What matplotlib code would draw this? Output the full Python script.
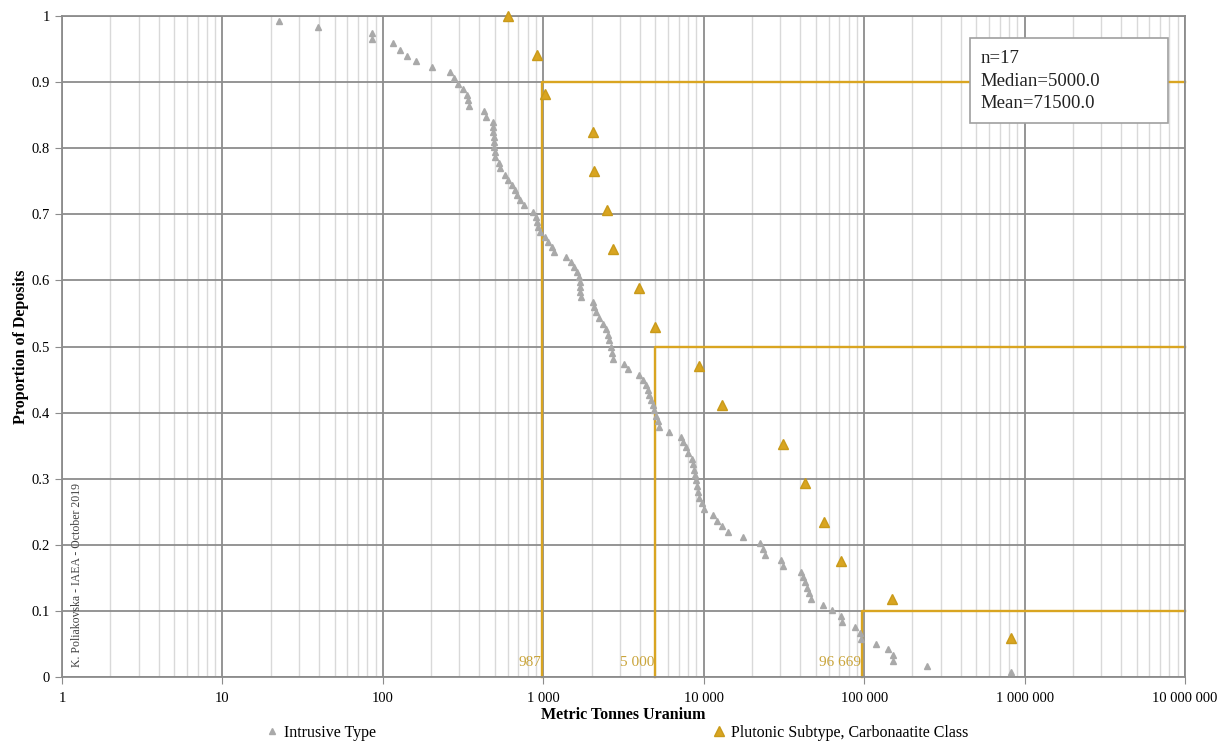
import numpy as np
from matplotlib import pyplot as plt
from matplotlib.lines import Line2D
from matplotlib.patches import Rectangle
from matplotlib.ticker import FixedLocator, FuncFormatter, NullFormatter

# Intrusive Type (grey)
intrusive_x = [22.5, 39.4, 85.6, 85.6, 116, 128, 142, 161, 203, 262,
               278, 294, 316, 335, 340, 345, 428, 440, 486, 486,
               488, 491, 493, 495, 497, 500, 530, 538, 578, 603,
               639, 667, 687, 717, 759, 864, 902, 915, 928, 955,
               1026, 1071, 1135, 1168, 1388, 1491, 1556, 1624, 1671, 1696,
               1700, 1705, 1720, 2044, 2074, 2134, 2228, 2360, 2464, 2535,
               2572, 2647, 2685, 2724, 3190, 3379, 3956, 4190, 4375, 4502,
               4567, 4700, 4837, 4907, 5050, 5197, 5272, 6085, 7230, 7440,
               7770, 7996, 8470, 8590, 8716, 8840, 8970, 9100, 9230, 9365,
               9770, 10060, 11440, 12120, 13020, 14190, 17600, 22470, 23460, 24100,
               30370, 31250, 40500, 41670, 42880, 44120, 45400, 46700, 55520, 63180,
               71900, 72940, 87880, 94400, 95770, 118800, 141100, 151600, 151600, 247000,
               825000]
intrusive_y = [0.992, 0.983, 0.974, 0.965, 0.959, 0.949, 0.939, 0.932, 0.923, 0.915,
               0.906, 0.897, 0.890, 0.880, 0.873, 0.864, 0.856, 0.847, 0.840, 0.832,
               0.824, 0.817, 0.809, 0.802, 0.794, 0.787, 0.778, 0.770, 0.759, 0.752,
               0.744, 0.737, 0.729, 0.722, 0.714, 0.703, 0.696, 0.688, 0.681, 0.673,
               0.666, 0.658, 0.651, 0.643, 0.635, 0.628, 0.620, 0.613, 0.605, 0.598,
               0.590, 0.582, 0.575, 0.567, 0.560, 0.552, 0.543, 0.534, 0.526, 0.517,
               0.510, 0.499, 0.490, 0.481, 0.474, 0.466, 0.457, 0.449, 0.442, 0.434,
               0.427, 0.419, 0.411, 0.404, 0.395, 0.387, 0.378, 0.371, 0.363, 0.356,
               0.348, 0.339, 0.330, 0.322, 0.313, 0.306, 0.298, 0.289, 0.280, 0.271,
               0.263, 0.254, 0.245, 0.236, 0.228, 0.219, 0.212, 0.203, 0.194, 0.185,
               0.177, 0.168, 0.159, 0.151, 0.144, 0.135, 0.127, 0.118, 0.109, 0.101,
               0.092, 0.083, 0.076, 0.067, 0.057, 0.050, 0.042, 0.033, 0.024, 0.017,
               0.008]

# Plutonic Subtype, Carbonaatite Class (gold)
plut_x = [600, 915, 1030, 2040, 2075, 2500, 2725, 3955, 5000, 9360,
          13000, 31300, 42800, 56300, 71900, 149000, 821000]
plut_y = [1.0, 0.941, 0.882, 0.824, 0.765, 0.706, 0.647, 0.588, 0.529, 0.471,
          0.412, 0.353, 0.294, 0.235, 0.176, 0.118, 0.059]

q_vals = [987, 5000, 96669]
q_props = [0.9, 0.5, 0.1]
q_labels = ['987', '5 000', '96 669']

stats_text = 'n=17\nMedian=5000.0\nMean=71500.0'

gold = '#D9A521'
grey = '#A9A9A9'
plt.rcParams['font.family'] = ['Liberation Serif', 'DejaVu Serif']

fig = plt.figure(figsize=(12.28, 7.44), dpi=100)
ax = fig.add_axes([62/1228, 1-677/744, (1185-62)/1228, (677-16)/744])

ax.set_xscale('log')
ax.set_xlim(1, 1e7)
ax.set_ylim(0, 1)

# grid
ax.xaxis.set_minor_locator(FixedLocator([m * 10.0**e for e in range(0, 7) for m in range(2, 10)]))
ax.xaxis.set_minor_formatter(NullFormatter())
ax.grid(True, which='minor', axis='x', color='#D9D9D9', lw=1.0, zorder=0)
ax.grid(True, which='major', color='#8C8C8C', lw=1.3, zorder=0)
ax.set_axisbelow(True)
for s in ax.spines.values():
    s.set_color('#8C8C8C')
    s.set_linewidth(1.3)

ax.set_yticks(np.arange(0, 1.01, 0.1))
ax.yaxis.set_major_formatter(FuncFormatter(lambda v, p: '%g' % round(v, 1)))
ax.xaxis.set_major_locator(FixedLocator([10.0**e for e in range(0, 8)]))
ax.xaxis.set_major_formatter(FuncFormatter(lambda v, p: '{:,}'.format(int(round(v))).replace(',', ' ')))
ax.tick_params(axis='both', which='major', labelsize=10.5, color='#8C8C8C', length=5)
ax.tick_params(axis='x', which='minor', length=0)
ax.tick_params(axis='x', pad=6)

# quantile step lines
for xv, pv, lab in zip(q_vals, q_props, q_labels):
    ax.plot([xv, xv, 1e7], [0, pv, pv], color=gold, lw=1.7, zorder=2, clip_on=False)
    ax.text(xv * 0.985, 0.012, lab, ha='right', va='bottom', color='#C9A43A', fontsize=11)

ax.plot(intrusive_x, intrusive_y, ls='none', marker='^', ms=4, color=grey,
        mec=grey, zorder=3, clip_on=False)
ax.plot(plut_x, plut_y, ls='none', marker='^', ms=7.5, color=gold,
        mec='#C99A1A', zorder=4, clip_on=False)

ax.set_xlabel('Metric Tonnes Uranium', fontsize=11.5, fontweight='bold', labelpad=1)
ax.set_ylabel('Proportion of Deposits', fontsize=11.5, fontweight='bold', labelpad=2)

ax.text(0.008, 0.015, 'K. Poliakovska - IAEA - October 2019', transform=ax.transAxes,
        rotation=90, ha='left', va='bottom', fontsize=8.5, color='#404040')

# stats box
ax.add_patch(Rectangle((0.8085, 0.838), 0.1763, 0.1287, transform=ax.transAxes,
                       fc='white', ec='#A0A0A0', lw=1.2, zorder=5))
ax.text(0.8175, 0.948, stats_text, transform=ax.transAxes, ha='left', va='top',
        fontsize=13.5, linespacing=1.42, color='#222222', zorder=6)

# legend entries below the x label
h1 = Line2D([], [], ls='none', marker='^', ms=4, color=grey, mec=grey)
h2 = Line2D([], [], ls='none', marker='^', ms=7.5, color=gold, mec='#C99A1A')
leg_kw = dict(loc='center left', frameon=False, fontsize=11.5, handlelength=0.8,
              handletextpad=0.3, borderaxespad=0, borderpad=0)
fig.legend([h1], ['Intrusive Type'], bbox_to_anchor=(266/1228, 1-733/744), **leg_kw)
fig.legend([h2], ['Plutonic Subtype, Carbonaatite Class'], bbox_to_anchor=(713/1228, 1-733/744), **leg_kw)

fig.savefig('out.png', dpi=100)
